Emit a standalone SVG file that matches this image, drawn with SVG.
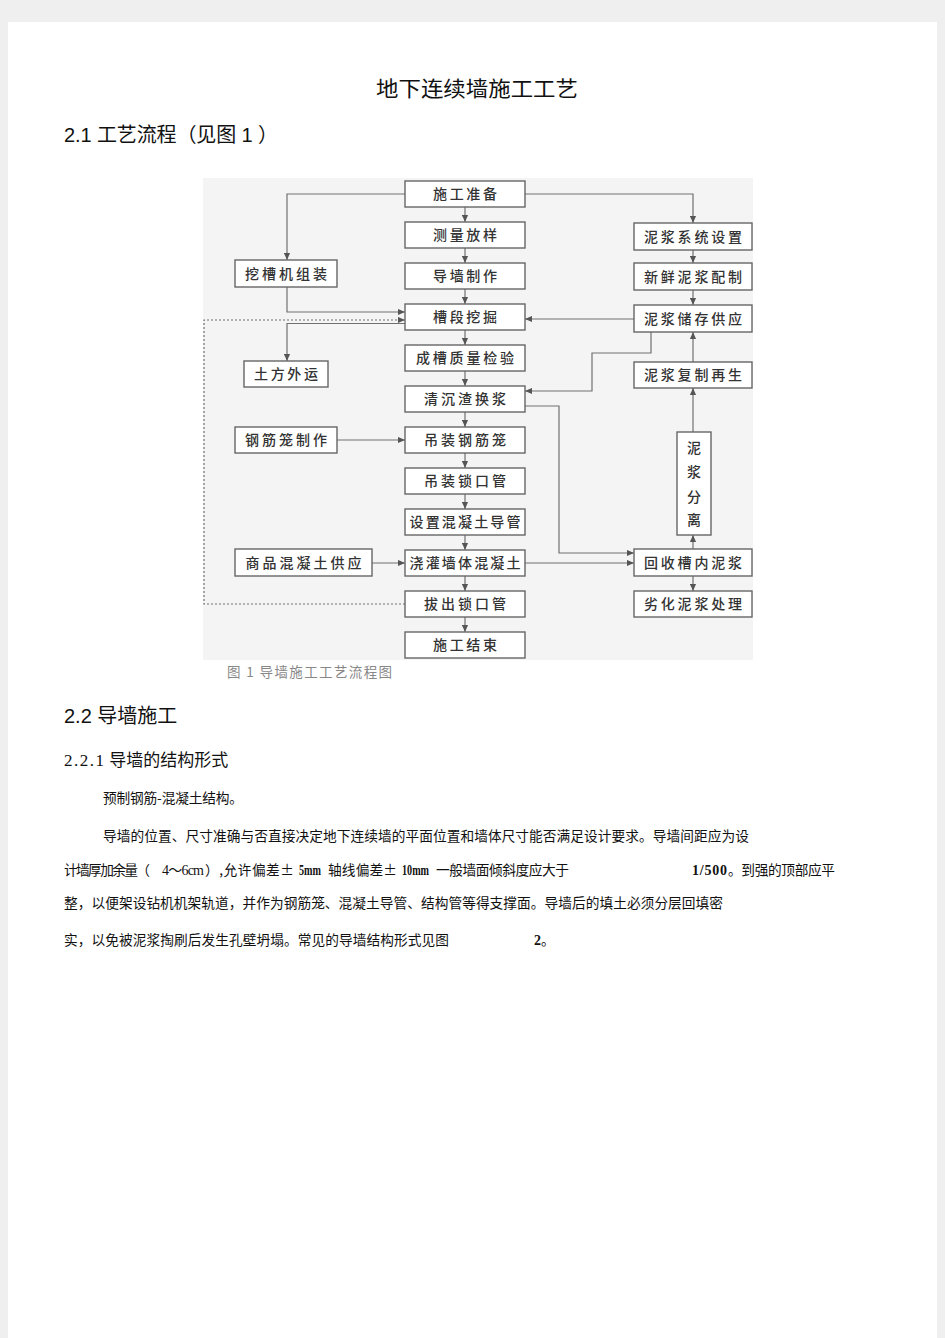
<svg xmlns="http://www.w3.org/2000/svg" width="945" height="1338" viewBox="0 0 945 1338">
<defs>
<style>
.bx{fill:#ffffff;stroke:#666;stroke-width:1.4}
.bt{font-family:"Noto Sans CJK SC","Noto Sans",sans-serif;font-size:14px;fill:#333;text-anchor:middle;font-weight:500}
.cn{fill:none;stroke:#707070;stroke-width:1.2}
.dash{stroke-dasharray:2,2}
.h{font-family:"Liberation Sans","Noto Sans CJK SC",sans-serif;fill:#111}
.p{font-family:"Noto Sans CJK SC","Liberation Sans",sans-serif;font-size:13.7px;fill:#111}
.n{font-family:"Liberation Serif","Noto Sans CJK SC",serif;font-size:14px;font-weight:bold;fill:#111}
</style>
<marker id="ah" viewBox="0 0 8 8" refX="8" refY="4" markerWidth="7" markerHeight="7" markerUnits="userSpaceOnUse" orient="auto">
<path d="M0,0.5 L8,4 L0,7.5 Z" fill="#555"/>
</marker>
</defs>
<rect x="0" y="0" width="945" height="1338" fill="#efefef"/>
<rect x="8" y="22" width="929" height="1316" fill="#ffffff"/>

<text x="477" y="96" text-anchor="middle" font-family="Noto Sans CJK SC,sans-serif" font-size="21" fill="#111" textLength="202" lengthAdjust="spacingAndGlyphs">地下连续墙施工工艺</text>
<text x="64" y="142" class="h" font-size="20" textLength="214" lengthAdjust="spacing">2.1 <tspan font-family="Noto Sans CJK SC,sans-serif">工艺流程（见图</tspan> 1 <tspan font-family="Noto Sans CJK SC,sans-serif">）</tspan></text>

<rect x="203" y="178" width="550" height="482" fill="#f4f4f4"/>

<g id="connectors">
<path class="cn" d="M405,194 H287 V260" marker-end="url(#ah)"/>
<path class="cn" d="M525,194 H693 V223" marker-end="url(#ah)"/>
<path class="cn" d="M465,207 V222" marker-end="url(#ah)"/>
<path class="cn" d="M465,248 V263" marker-end="url(#ah)"/>
<path class="cn" d="M465,289 V304" marker-end="url(#ah)"/>
<path class="cn" d="M465,330 V345" marker-end="url(#ah)"/>
<path class="cn" d="M465,371 V386" marker-end="url(#ah)"/>
<path class="cn" d="M465,412 V427" marker-end="url(#ah)"/>
<path class="cn" d="M465,453 V468" marker-end="url(#ah)"/>
<path class="cn" d="M465,494 V509" marker-end="url(#ah)"/>
<path class="cn" d="M465,535 V550" marker-end="url(#ah)"/>
<path class="cn" d="M465,576 V591" marker-end="url(#ah)"/>
<path class="cn" d="M465,617 V632" marker-end="url(#ah)"/>
<path class="cn" d="M287,287 V312 H405" marker-end="url(#ah)"/>
<path class="cn" d="M405,323.5 H287 V361" marker-end="url(#ah)"/>
<path class="cn dash" d="M405,604 H204 V320 H405" marker-end="url(#ah)"/>
<path class="cn" d="M337,440 H405" marker-end="url(#ah)"/>
<path class="cn" d="M372,563 H405" marker-end="url(#ah)"/>
<path class="cn" d="M693,250 V263" marker-end="url(#ah)"/>
<path class="cn" d="M693,290 V305" marker-end="url(#ah)"/>
<path class="cn" d="M634,319 H525" marker-end="url(#ah)"/>
<path class="cn" d="M651,332 V353 H592 V391 H525" marker-end="url(#ah)"/>
<path class="cn" d="M693,362 V332" marker-end="url(#ah)"/>
<path class="cn" d="M693,432 V388" marker-end="url(#ah)"/>
<path class="cn" d="M693,549 V535" marker-end="url(#ah)"/>
<path class="cn" d="M525,406 H559 V553 H634" marker-end="url(#ah)"/>
<path class="cn" d="M525,563 H634" marker-end="url(#ah)"/>
<path class="cn" d="M693,576 V591" marker-end="url(#ah)"/>
</g>

<g id="n1"><rect class="bx" x="405" y="181" width="120" height="26"/><text class="bt" x="465" y="199" textLength="64" lengthAdjust="spacing">施工准备</text></g>
<g id="n2"><rect class="bx" x="405" y="222" width="120" height="26"/><text class="bt" x="465" y="240" textLength="64" lengthAdjust="spacing">测量放样</text></g>
<g id="n3"><rect class="bx" x="405" y="263" width="120" height="26"/><text class="bt" x="465" y="281" textLength="64" lengthAdjust="spacing">导墙制作</text></g>
<g id="n4"><rect class="bx" x="405" y="304" width="120" height="26"/><text class="bt" x="465" y="322" textLength="64" lengthAdjust="spacing">槽段挖掘</text></g>
<g id="n5"><rect class="bx" x="405" y="345" width="120" height="26"/><text class="bt" x="465" y="363" textLength="98" lengthAdjust="spacing">成槽质量检验</text></g>
<g id="n6"><rect class="bx" x="405" y="386" width="120" height="26"/><text class="bt" x="465" y="404" textLength="82" lengthAdjust="spacing">清沉渣换浆</text></g>
<g id="n7"><rect class="bx" x="405" y="427" width="120" height="26"/><text class="bt" x="465" y="445" textLength="82" lengthAdjust="spacing">吊装钢筋笼</text></g>
<g id="n8"><rect class="bx" x="405" y="468" width="120" height="26"/><text class="bt" x="465" y="486" textLength="82" lengthAdjust="spacing">吊装锁口管</text></g>
<g id="n9"><rect class="bx" x="405" y="509" width="120" height="26"/><text class="bt" x="465" y="527" textLength="111" lengthAdjust="spacing">设置混凝土导管</text></g>
<g id="n10"><rect class="bx" x="405" y="550" width="120" height="26"/><text class="bt" x="465" y="568" textLength="111" lengthAdjust="spacing">浇灌墙体混凝土</text></g>
<g id="n11"><rect class="bx" x="405" y="591" width="120" height="26"/><text class="bt" x="465" y="609" textLength="82" lengthAdjust="spacing">拔出锁口管</text></g>
<g id="n12"><rect class="bx" x="405" y="632" width="120" height="26"/><text class="bt" x="465" y="650" textLength="64" lengthAdjust="spacing">施工结束</text></g>

<g id="n13"><rect class="bx" x="235" y="260" width="102" height="27"/><text class="bt" x="286" y="278.5" textLength="82" lengthAdjust="spacing">挖槽机组装</text></g>
<g id="n14"><rect class="bx" x="244" y="361" width="84" height="26"/><text class="bt" x="286" y="379" textLength="64" lengthAdjust="spacing">土方外运</text></g>
<g id="n15"><rect class="bx" x="235" y="427" width="102" height="26"/><text class="bt" x="286" y="445" textLength="82" lengthAdjust="spacing">钢筋笼制作</text></g>
<g id="n16"><rect class="bx" x="235" y="549" width="137" height="27"/><text class="bt" x="303.5" y="567.5" textLength="116" lengthAdjust="spacing">商品混凝土供应</text></g>

<g id="n17"><rect class="bx" x="634" y="223" width="118" height="27"/><text class="bt" x="693" y="241.5" textLength="98" lengthAdjust="spacing">泥浆系统设置</text></g>
<g id="n18"><rect class="bx" x="634" y="263" width="118" height="27"/><text class="bt" x="693" y="281.5" textLength="98" lengthAdjust="spacing">新鲜泥浆配制</text></g>
<g id="n19"><rect class="bx" x="634" y="305" width="118" height="27"/><text class="bt" x="693" y="323.5" textLength="98" lengthAdjust="spacing">泥浆储存供应</text></g>
<g id="n20"><rect class="bx" x="634" y="362" width="118" height="26"/><text class="bt" x="693" y="380" textLength="98" lengthAdjust="spacing">泥浆复制再生</text></g>
<g id="n21"><rect class="bx" x="677" y="432" width="34" height="103"/>
<text class="bt" x="694" y="453">泥</text><text class="bt" x="694" y="477">浆</text><text class="bt" x="694" y="502">分</text><text class="bt" x="694" y="525">离</text></g>
<g id="n22"><rect class="bx" x="634" y="549" width="118" height="27"/><text class="bt" x="693" y="567.5" textLength="98" lengthAdjust="spacing">回收槽内泥浆</text></g>
<g id="n23"><rect class="bx" x="634" y="591" width="118" height="26"/><text class="bt" x="693" y="609" textLength="98" lengthAdjust="spacing">劣化泥浆处理</text></g>

<text x="227" y="677" font-family="Noto Sans CJK SC,sans-serif" font-size="13.5" fill="#888" textLength="165" lengthAdjust="spacing">图 1 导墙施工工艺流程图</text>

<text x="64" y="723" class="h" font-size="20">2.2 <tspan font-family="Noto Sans CJK SC,sans-serif">导墙施工</tspan></text>
<text x="64" y="766" font-family="Liberation Serif,serif" font-size="17" fill="#111" letter-spacing="1.5">2.2.1<tspan font-family="Noto Sans CJK SC,sans-serif" letter-spacing="0"> 导墙的结构形式</tspan></text>
<text x="103" y="803" class="p" textLength="140" lengthAdjust="spacing">预制钢筋-混凝土结构。</text>

<text x="103" y="841" class="p" textLength="646" lengthAdjust="spacing">导墙的位置、尺寸准确与否直接决定地下连续墙的平面位置和墙体尺寸能否满足设计要求。导墙间距应为设</text>
<text x="64" y="875" class="p" textLength="86" lengthAdjust="spacing">计墙厚加余量（</text>
<text x="162" y="875" class="n" style="font-weight:normal" textLength="42" lengthAdjust="spacing">4～6cm</text>
<text x="205" y="875" class="p" textLength="89" lengthAdjust="spacing">）,允许偏差±</text>
<text x="299" y="875" class="n" textLength="22" lengthAdjust="spacingAndGlyphs">5mm</text>
<text x="328" y="875" class="p" textLength="69" lengthAdjust="spacing">轴线偏差±</text>
<text x="402" y="875" class="n" textLength="27" lengthAdjust="spacingAndGlyphs">10mm</text>
<text x="436" y="875" class="p" textLength="133" lengthAdjust="spacing">一般墙面倾斜度应大于</text>
<text x="692" y="875" class="n" textLength="35" lengthAdjust="spacing">1/500</text>
<text x="728" y="875" class="p" textLength="107" lengthAdjust="spacing">。到强的顶部应平</text>
<text x="64" y="908" class="p" textLength="659" lengthAdjust="spacing">整，以便架设钻机机架轨道，并作为钢筋笼、混凝土导管、结构管等得支撑面。导墙后的填土必须分层回填密</text>
<text x="64" y="945" class="p" textLength="385" lengthAdjust="spacing">实，以免被泥浆掏刷后发生孔壁坍塌。常见的导墙结构形式见图</text>
<text x="534" y="945" class="n">2<tspan class="p" font-weight="normal">。</tspan></text>
</svg>
